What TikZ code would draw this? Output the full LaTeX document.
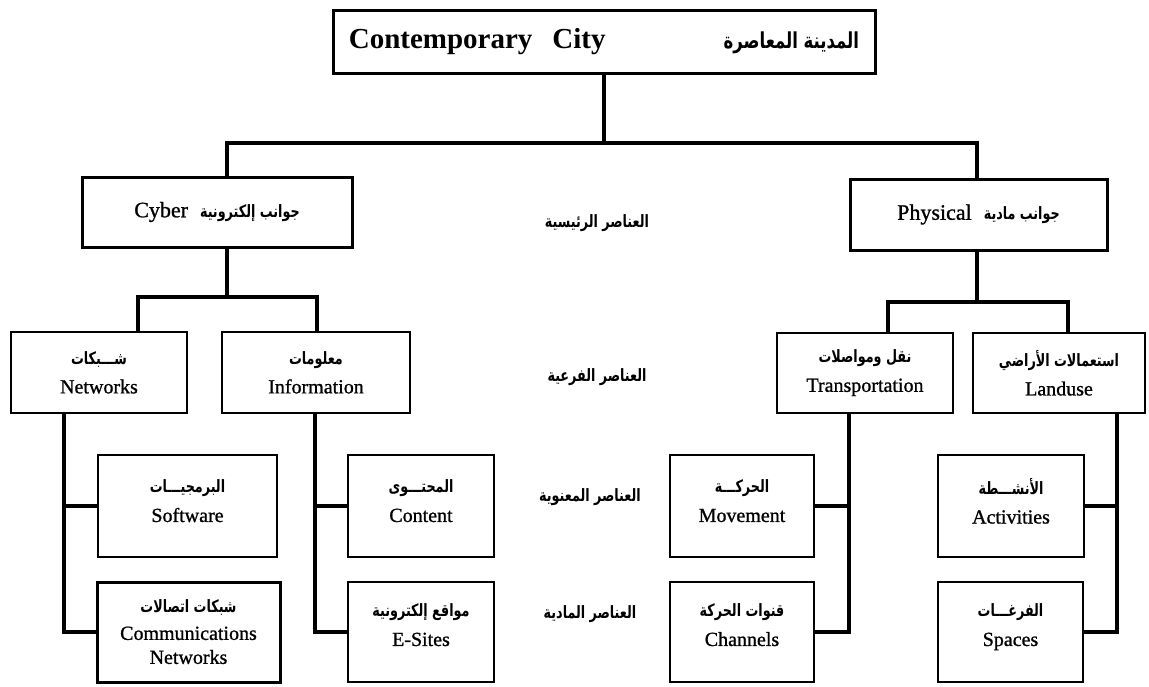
\documentclass[tikz,border=0pt]{standalone}
\usepackage{fontspec}
\setmainfont{Liberation Serif}
\newfontfamily\boxfont[FakeBold=1.0]{Liberation Serif}
\newfontfamily\arabicfont[Script=Arabic, FakeStretch=0.75]{DejaVu Sans}
\TeXXeTstate=1
\newcommand{\arsm}[1]{{\arabicfont\bfseries\fontsize{17}{19}\selectfont\beginR #1\endR}}
\newcommand{\armid}[1]{{\arabicfont\bfseries\fontsize{17}{19}\selectfont\beginR #1\endR}}
\tikzset{
  box/.style={draw, line width=2pt, align=center, inner sep=0pt, font=\boxfont\fontsize{20}{24}\selectfont},
  mainbox/.style={box, line width=3pt},
  lvl/.style={inner sep=0pt},
  conn/.style={line width=3.7pt, line join=miter},
}
\begin{document}
\begin{tikzpicture}[x=1pt, y=-1pt]
\useasboundingbox (0,0) rectangle (1149,686);
% boxes
\node[mainbox, minimum width=542pt, minimum height=63pt] (city) at (604,41.5)
  {{\rmfamily\bfseries\fontsize{29}{32}\selectfont Contemporary\hspace{20pt}City}\hspace{118pt}{\arabicfont\bfseries\fontsize{22}{24}\selectfont\beginR المدينة المعاصرة\endR}};
\node[mainbox, minimum width=270pt, minimum height=70pt] (cyber) at (217,212)
  {\fontsize{22}{24}\selectfont Cyber\hspace{12pt}\arsm{جوانب إلكترونية}};
\node[mainbox, minimum width=257pt, minimum height=71pt] (phys) at (978.5,214.5)
  {\fontsize{22}{24}\selectfont Physical\hspace{12pt}\arsm{جوانب مادية}};
\node[box, minimum width=176pt, minimum height=81pt] (netw) at (99,372.5)
  {\arsm{شـــبكات}\\[5pt]Networks};
\node[box, minimum width=188pt, minimum height=81pt] (info) at (316,372.5)
  {\arsm{معلومات}\\[5pt]Information};
\node[box, minimum width=176pt, minimum height=80pt] (trans) at (865,373)
  {\arsm{نقل ومواصلات}\\[5pt]Transportation};
\node[box, minimum width=172pt, minimum height=80pt] (land) at (1059,373)
  {\arsm{استعمالات الأراضي}\\[5pt]Landuse};
\node[box, minimum width=179pt, minimum height=102pt] (soft) at (187.5,506)
  {\arsm{البرمجيـــات}\\[5pt]Software\\[-14pt]~};
\node[box, minimum width=146pt, minimum height=102pt] (cont) at (421,506)
  {\arsm{المحتـــوى}\\[5pt]Content\\[-14pt]~};
\node[box, minimum width=144pt, minimum height=102pt] (move) at (742,506)
  {\arsm{الحركـــة}\\[5pt]Movement\\[-14pt]~};
\node[box, minimum width=146pt, minimum height=102pt] (acti) at (1011,506)
  {\arsm{الأنشـــطة}\\[5pt]Activities\\[-14pt]~};
\node[box, line width=3pt, minimum width=183pt, minimum height=100pt] (comm) at (188.5,632)
  {\arsm{شبكات اتصالات}\\[3pt]Communications\\Networks};
\node[box, minimum width=146pt, minimum height=100pt] (esit) at (421,632)
  {\arsm{مواقع إلكترونية}\\[5pt]E-Sites\\[-10pt]~};
\node[box, minimum width=144pt, minimum height=100pt] (chan) at (742,632)
  {\arsm{قنوات الحركة}\\[5pt]Channels\\[-10pt]~};
\node[box, minimum width=145pt, minimum height=100pt] (spac) at (1010.5,632)
  {\arsm{الفرغـــات}\\[5pt]Spaces\\[-10pt]~};
% level labels
\node[lvl] (l1) at (597,223) {\armid{العناصر الرئيسية}};
\node[lvl] (l2) at (597,377) {\armid{العناصر الفرعية}};
\node[lvl] (l3) at (590,497) {\armid{العناصر المعنوية}};
\node[lvl] (l4) at (590,614) {\armid{العناصر المادية}};
% connectors
\coordinate (j0) at (604,143);
\draw[conn] (city.south) -- (j0);
\draw[conn] ([xshift=10pt]cyber.north) |- (j0) -| ([xshift=-1.5pt]phys.north);
\coordinate (j1) at (227,297);
\draw[conn] ([xshift=10pt]cyber.south) -- (j1);
\draw[conn] ([xshift=39pt]netw.north) |- (j1) -| ([xshift=1pt]info.north);
\coordinate (j2) at (977,302);
\draw[conn] ([xshift=-1.5pt]phys.south) -- (j2);
\draw[conn] ([xshift=23pt]trans.north) |- (j2) -| ([xshift=9pt]land.north);
% branches
\coordinate (tn) at ([xshift=-35pt]netw.south);
\draw[conn] (tn) |- (comm.west);
\draw[conn] (soft.west) -- (soft.west -| tn);
\coordinate (ti) at ([xshift=-1pt]info.south);
\draw[conn] (ti) |- (esit.west);
\draw[conn] (cont.west) -- (cont.west -| ti);
\coordinate (tt) at ([xshift=-16pt]trans.south);
\draw[conn] (tt) |- (chan.east);
\draw[conn] (move.east) -- (move.east -| tt);
\coordinate (tl) at ([xshift=58pt]land.south);
\draw[conn] (tl) |- (spac.east);
\draw[conn] (acti.east) -- (acti.east -| tl);
\end{tikzpicture}
\end{document}
